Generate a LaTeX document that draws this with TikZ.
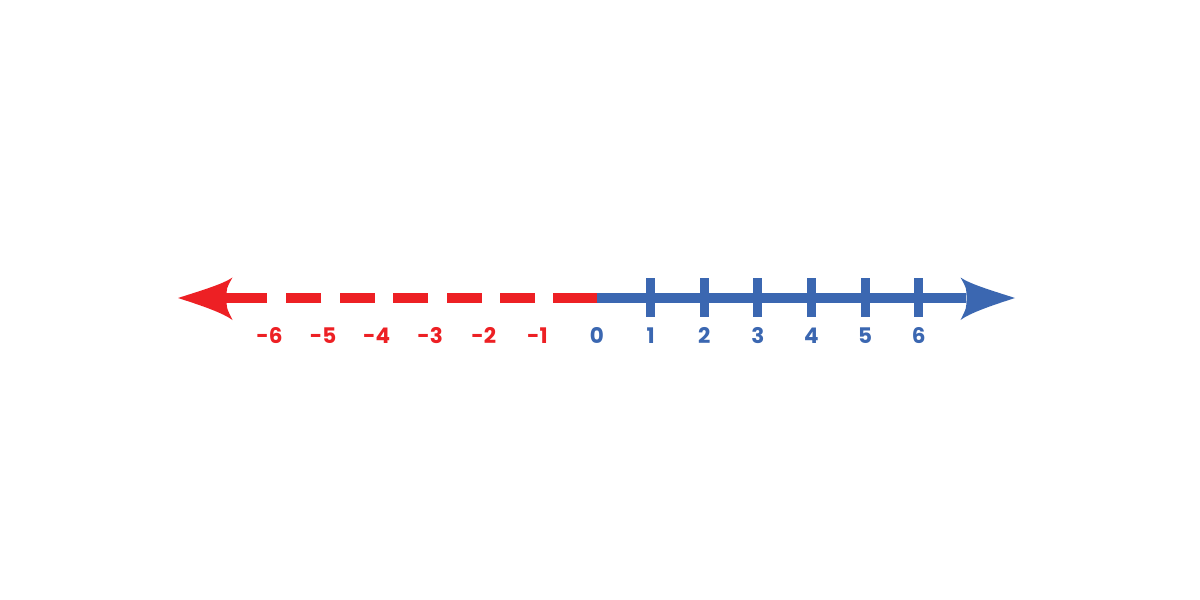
\documentclass[tikz,border=0pt]{standalone}
\usepackage{fontspec}
\setmainfont{Poppins}
\definecolor{linered}{RGB}{237,32,36}
\definecolor{lineblue}{RGB}{59,103,177}

\begin{document}
\begin{tikzpicture}[x=1pt,y=-1pt,
        axis/.style={line width=9.4pt},
        num/.style={anchor=base, inner sep=0pt, font=\fontsize{21.5}{25}\selectfont\bfseries}]
        \def\zero{597}
        \def\unit{53.6}
        \def\head[#1](#2){\fill[shift={(#2,298)}, #1] (0,0) .. controls (25,-8) and (45,-14) .. (54.5,-20.5)
              .. controls (48.5,-10) .. (48.5,0) .. controls (48.5,10) .. (54.5,22)
              .. controls (45,15) and (25,8) .. (0,0) -- cycle;}

        \path[use as bounding box, fill=white] (0,0) rectangle (1200,600);

        \coordinate (O) at (\zero,298);
        \coordinate (R) at (966,298);
        \coordinate (L) at (226,298);
        \draw[axis, lineblue] (O) -- (R);
        \draw[axis, linered] (O) -- ++(-43.7,0);
        \foreach \k in {1,...,5}
              \draw[axis, linered] ({588.4-53.4*\k},298) -- ++(-35,0);
        \draw[axis, linered] (L) -- ++(41.3,0);
        \head[linered](178)
        \head[lineblue, xscale=-1](1015)

        \foreach \k in {1,...,6}
              \draw[line width=9pt, lineblue] ({\zero+\unit*\k},278.3) -- ++(0,39);

        \node[num, lineblue] (z) at (\zero,343.3) {0};
        \foreach \k in {1,...,6}{
              \node[num, lineblue] (p\k) at ({\zero+\unit*\k},343.3) {\k};
              \node[num, linered, xshift=-6pt] (m\k) at ({\zero-\unit*\k},343.3) {-\k};
        }
    \end{tikzpicture}
\end{document}
